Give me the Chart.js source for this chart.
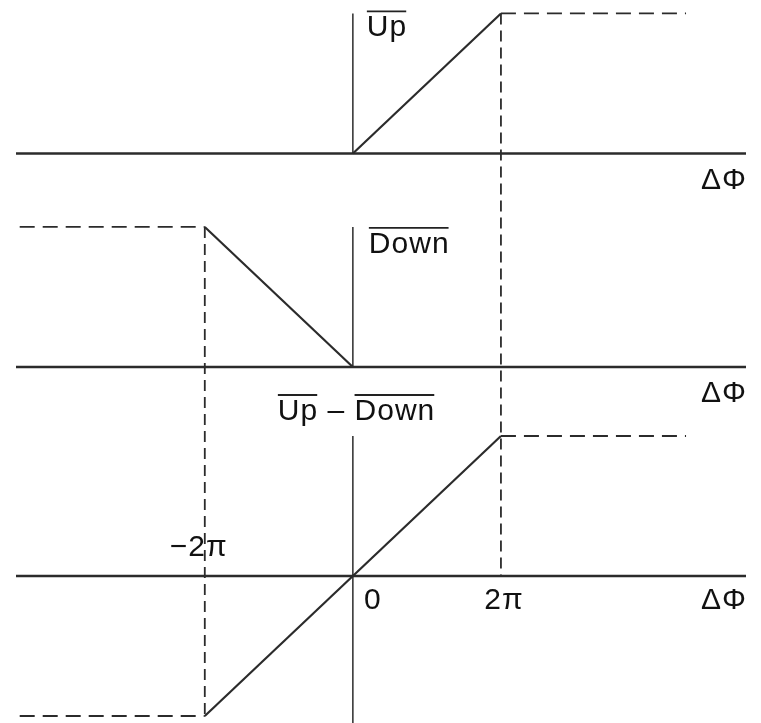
<!DOCTYPE html>
<html>
<head>
<meta charset="utf-8">
<title>Phase detector transfer</title>
<script src="https://cdn.jsdelivr.net/npm/chart.js@4.4.1/dist/chart.umd.min.js"></script>
<style>
  html, body { margin: 0; padding: 0; background: #fff; }
  #pd-chart { display: block; }
</style>
</head>
<body>
<canvas id="pd-chart" width="761" height="723"></canvas>
<script>
// phase error in units of pi, outputs normalised to 1
const upRampX = [0, 2];
const upRampY = [0, 1];
const upSatX = [2, 4.5];
const upSatY = [1, 1];

const downRampX = [-2, 0];
const downRampY = [1, 0];
const downSatX = [-4.5, -2];
const downSatY = [1, 1];

const diffRampX = [-2, 2];
const diffRampY = [-1, 1];
const diffSatHiX = [2, 4.5];
const diffSatHiY = [1, 1];
const diffSatLoX = [-4.5, -2];
const diffSatLoY = [-1, -1];

const tickPhase = [-2, 0, 2];
const tickText = ['\u22122\u03c0', '0', '2\u03c0'];

// vertical offset of each panel's zero line on the shared y scale
const PANEL = { up: 3.018, down: 1.493, diff: 0 };
const X_MIN = -4.55, X_MAX = 5.31;
const Y_MIN = -1.05, Y_MAX = 4.114;

const INK = '#2b2b2b';
const FONT = '30px "Liberation Sans", Arial, sans-serif';

const pts = (xs, ys, base) => xs.map((x, i) => ({ x, y: ys[i] + base }));

const solid = (data, width) => ({
  data, showLine: true, borderColor: INK, borderWidth: width,
  pointRadius: 0, fill: false, tension: 0
});
// horizontal and vertical dashes differ a little in pitch
const dashedH = (data) => ({ ...solid(data, 1.8), borderDash: [15, 8] });
const dashedV = (data) => ({ ...solid(data, 1.8), borderDash: [11, 6] });

const datasets = [
  // zero lines of each panel
  solid(pts([X_MIN, X_MAX], [0, 0], PANEL.up), 2.6),
  solid(pts([X_MIN, X_MAX], [0, 0], PANEL.down), 2.6),
  solid(pts([X_MIN, X_MAX], [0, 0], PANEL.diff), 2.6),
  // output axes at zero phase
  solid(pts([0, 0], [0, 1], PANEL.up), 1.5),
  solid(pts([0, 0], [0, 1], PANEL.down), 1.5),
  solid(pts([0, 0], [Y_MIN, 1], PANEL.diff), 1.5),
  // transfer curves
  solid(pts(upRampX, upRampY, PANEL.up), 2.2),
  dashedH(pts(upSatX, upSatY, PANEL.up)),
  solid(pts(downRampX, downRampY, PANEL.down), 2.2),
  dashedH(pts(downSatX, downSatY, PANEL.down)),
  solid(pts(diffRampX, diffRampY, PANEL.diff), 2.2),
  dashedH(pts(diffSatHiX, diffSatHiY, PANEL.diff)),
  dashedH(pts(diffSatLoX, diffSatLoY, PANEL.diff)),
  // guides at +/- 2 pi
  dashedV([{ x: upSatX[0], y: upSatY[0] + PANEL.up }, { x: upSatX[0], y: PANEL.diff }]),
  dashedV([{ x: downSatX[1], y: downSatY[1] + PANEL.down }, { x: downSatX[1], y: diffSatLoY[1] + PANEL.diff }])
];

function overlined(ctx, text, x, y) {
  const w = ctx.measureText(text).width;
  ctx.fillText(text, x, y);
  ctx.beginPath();
  ctx.moveTo(x, y - 25);
  ctx.lineTo(x + w - 1, y - 25);
  ctx.stroke();
  return w;
}

const labelPlugin = {
  id: 'pdLabels',
  afterDatasetsDraw(chart) {
    const { ctx } = chart;
    const sx = chart.scales.x, sy = chart.scales.y;
    const x0 = sx.getPixelForValue(0);
    ctx.save();
    ctx.font = FONT;
    ctx.letterSpacing = '1px';
    ctx.fillStyle = '#111';
    ctx.strokeStyle = '#222';
    ctx.lineWidth = 1.8;
    ctx.textBaseline = 'alphabetic';
    ctx.textAlign = 'left';

    overlined(ctx, 'Up', x0 + 14, sy.getPixelForValue(PANEL.up + 1) + 23);
    overlined(ctx, 'Down', x0 + 16, sy.getPixelForValue(PANEL.down + 1) + 26);

    // Up - Down heading of the lower panel
    const hy = sy.getPixelForValue(PANEL.diff + 1) - 16;
    let hx = x0 - 75;
    hx += overlined(ctx, 'Up', hx, hy);
    const dash = ' \u2013 ';
    ctx.fillText(dash, hx, hy);
    hx += ctx.measureText(dash).width;
    overlined(ctx, 'Down', hx, hy);

    ctx.textAlign = 'right';
    ctx.fillText('\u0394\u03a6', sx.right + 1, sy.getPixelForValue(PANEL.up) + 36);
    ctx.fillText('\u0394\u03a6', sx.right + 1, sy.getPixelForValue(PANEL.down) + 35);
    ctx.fillText('\u0394\u03a6', sx.right + 1, sy.getPixelForValue(PANEL.diff) + 33);

    // phase ticks: -2pi sits above the line, the others below it
    ctx.textAlign = 'center';
    const base = sy.getPixelForValue(PANEL.diff);
    tickPhase.forEach((p, i) => {
      const px = sx.getPixelForValue(p);
      if (p < 0) ctx.fillText(tickText[i], px - 6, base - 20);
      else if (p === 0) ctx.fillText(tickText[i], px + 20, base + 33);
      else ctx.fillText(tickText[i], px + 3, base + 33);
    });
    ctx.restore();
  }
};

new Chart(document.getElementById('pd-chart'), {
  type: 'scatter',
  data: { datasets },
  options: {
    responsive: false,
    animation: false,
    layout: { padding: { left: 16, right: 15, top: 0, bottom: 0 } },
    plugins: { legend: { display: false }, tooltip: { enabled: false } },
    scales: {
      x: { type: 'linear', min: X_MIN, max: X_MAX, display: false },
      y: { type: 'linear', min: Y_MIN, max: Y_MAX, display: false }
    }
  },
  plugins: [labelPlugin]
});
</script>
</body>
</html>
